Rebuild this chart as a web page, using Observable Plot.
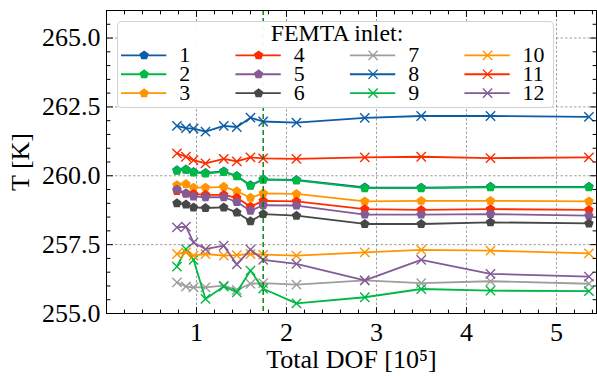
<!DOCTYPE html>
<html><head><meta charset="utf-8">
<script src="https://cdn.jsdelivr.net/npm/d3@7"></script>
<script src="https://cdn.jsdelivr.net/npm/@observablehq/plot@0.6"></script>
<style>
html,body{margin:0;padding:0;background:#fff;}
#wrap{position:relative;width:597px;height:376px;font-family:'Liberation Serif',serif;}
#wrap svg, #wrap svg text{font-family:'Liberation Serif','DejaVu Serif',serif !important;}
#legend{position:absolute;left:117px;top:21px;width:437px;height:87px;border:1px solid #d3d3d3;border-radius:4px;background:rgba(255,255,255,0.95);box-sizing:border-box;}
#legend svg{position:absolute;left:-1px;top:-1px;overflow:visible;}
</style></head><body><div id="wrap"><div id="legend"></div></div>
<script>
// x values: total degrees of freedom [10^5]
const dof = [0.783, 0.883, 0.967, 1.100, 1.303, 1.448, 1.600, 1.741, 2.111, 2.870, 3.497, 4.267, 5.361];
// temperatures [K] per FEMTA inlet
const inlet1  = [260.20, 260.23, 260.14, 260.10, 260.16, 259.99, 259.66, 259.87, 259.85, 259.58, 259.57, 259.60, 259.60];
const inlet2  = [260.18, 260.22, 260.12, 260.08, 260.14, 259.98, 259.64, 259.86, 259.83, 259.55, 259.55, 259.58, 259.58];
const inlet3  = [259.66, 259.70, 259.57, 259.57, 259.60, 259.44, 259.20, 259.36, 259.34, 259.07, 259.09, 259.09, 259.07];
const inlet4  = [259.45, 259.36, 259.34, 259.31, 259.31, 259.20, 258.88, 259.09, 259.07, 258.79, 258.76, 258.79, 258.76];
const inlet5  = [259.50, 259.36, 259.25, 259.22, 259.22, 259.05, 258.73, 258.93, 258.92, 258.59, 258.59, 258.61, 258.55];
const inlet6  = [259.00, 258.96, 258.85, 258.83, 258.85, 258.67, 258.35, 258.61, 258.55, 258.25, 258.25, 258.31, 258.27];
const inlet7  = [256.13, 255.98, 255.95, 255.95, 256.01, 255.86, 256.08, 256.10, 256.05, 256.20, 256.10, 256.17, 256.08];
const inlet8  = [261.81, 261.73, 261.71, 261.60, 261.81, 261.77, 262.11, 261.97, 261.93, 262.10, 262.17, 262.17, 262.14];
const inlet9  = [256.70, 257.34, 256.95, 255.53, 255.98, 255.77, 256.56, 255.90, 255.37, 255.59, 255.89, 255.83, 255.81];
const inlet10 = [257.16, 257.22, 257.10, 257.16, 257.10, 257.12, 257.16, 257.14, 257.10, 257.22, 257.31, 257.28, 257.18];
const inlet11 = [260.81, 260.69, 260.57, 260.45, 260.61, 260.52, 260.67, 260.63, 260.61, 260.67, 260.69, 260.64, 260.67];
const inlet12 = [258.13, 258.15, 257.58, 257.34, 257.46, 256.78, 257.32, 256.95, 256.80, 256.20, 256.95, 256.44, 256.34];
const seriesNames = ["1","2","3","4","5","6","7","8","9","10","11","12"];
const seriesColors = ["#0C5DA5","#00B945","#FF9500","#FF2C00","#845B97","#474747","#9e9e9e","#0C5DA5","#00B945","#FF9500","#FF2C00","#845B97"];
const seriesMarkers = ["pentagon","pentagon","pentagon","pentagon","pentagon","pentagon","times","times","times","times","times","times"];
const chosenDOF = [1.741];
const xTicks = [1, 2, 3, 4, 5];
const yTicks = [255.0, 257.5, 260.0, 262.5, 265.0];
const xLabel = "Total DOF [10⁵]";
const yLabel = "T [K]";
const legendTitle = "FEMTA inlet:";

const seriesValues = [inlet1,inlet2,inlet3,inlet4,inlet5,inlet6,inlet7,inlet8,inlet9,inlet10,inlet11,inlet12];
const xMinor = d3.range(1, 28).map(i => i / 5).filter(v => Math.abs(v - Math.round(v)) > 1e-6);
const yMinor = d3.range(0, 23).map(i => 255 + i / 2).filter(v => !yTicks.includes(v));

const pentagon = {draw(ctx, size) {
  const r = Math.sqrt(size / Math.PI) * 1.15;
  for (let i = 0; i < 5; i++) {
    const a = -Math.PI / 2 + i * 2 * Math.PI / 5;
    const px = r * Math.cos(a), py = r * Math.sin(a);
    if (i) ctx.lineTo(px, py); else ctx.moveTo(px, py);
  }
  ctx.closePath();
}};
const tickShape = {draw(ctx, l) { ctx.moveTo(0, 0); ctx.lineTo(0, -l); }};

const colorScale = {domain: seriesNames, range: seriesColors};

const seriesMarks = seriesNames.flatMap((name, i) => {
  const rows = dof.map((x, j) => ({dof: x, T: seriesValues[i][j], series: name}));
  const line = Plot.line(rows, {x: "dof", y: "T", stroke: "series", strokeWidth: 1.8});
  const dot = seriesMarkers[i] === "pentagon"
    ? Plot.dot(rows, {x: "dof", y: "T", fill: "series", symbol: pentagon, r: 4.3})
    : Plot.dot(rows, {x: "dof", y: "T", stroke: "series", symbol: "times", r: 4.3, strokeWidth: 1.4});
  return [line, dot];
});

const tk = {stroke: "#000", strokeWidth: 1, shape: tickShape, anchor: "start"};
const chart = Plot.plot({
  width: 597, height: 376,
  marginLeft: 106, marginRight: 1, marginTop: 10, marginBottom: 63,
  style: "font-family: 'Liberation Serif', serif; font-size: 26px; color: #000; background: #fff;",
  x: {domain: [0, 5.445]},
  y: {domain: [255, 266]},
  color: colorScale,
  marks: [
    Plot.gridX(xTicks, {stroke: "#888", strokeOpacity: 1, strokeDasharray: "2.5,2", strokeWidth: 0.8}),
    Plot.gridY(yTicks, {stroke: "#888", strokeOpacity: 1, strokeDasharray: "2.5,2", strokeWidth: 0.8}),
    ...seriesMarks,
    Plot.ruleX(chosenDOF, {stroke: "#007a00", strokeDasharray: "5,3", strokeWidth: 1.4}),
    Plot.frame({stroke: "#000", strokeWidth: 1}),
    Plot.vectorX(xTicks, {...tk, frameAnchor: "bottom", rotate: 0, length: 6}),
    Plot.vectorX(xMinor, {...tk, frameAnchor: "bottom", rotate: 0, length: 3.5}),
    Plot.vectorX(xTicks, {...tk, frameAnchor: "top", rotate: 180, length: 6}),
    Plot.vectorX(xMinor, {...tk, frameAnchor: "top", rotate: 180, length: 3.5}),
    Plot.vectorY(yTicks, {...tk, frameAnchor: "left", rotate: 90, length: 6}),
    Plot.vectorY(yMinor, {...tk, frameAnchor: "left", rotate: 90, length: 3.5}),
    Plot.vectorY(yTicks, {...tk, frameAnchor: "right", rotate: -90, length: 6}),
    Plot.vectorY(yMinor, {...tk, frameAnchor: "right", rotate: -90, length: 3.5}),
    Plot.axisX(xTicks, {tickSize: 0, tickPadding: 9, tickFormat: d3.format("d"), label: null}),
    Plot.text([xLabel], {frameAnchor: "bottom", lineAnchor: "bottom", dy: 54}),
    Plot.axisY(yTicks, {tickSize: 0, tickPadding: 6, tickFormat: d3.format(".1f"), label: yLabel, labelAnchor: "center", labelArrow: "none", labelOffset: 96})
  ]
});
document.getElementById("wrap").prepend(chart);

const entries = seriesNames.map((name, i) => ({name, col: Math.floor(i / 3), row: i % 3, marker: seriesMarkers[i]}));
const legend = Plot.plot({
  width: 437, height: 87, margin: 0,
  style: "font-family: 'Liberation Serif', serif; font-size: 22px; color: #000; background: transparent; overflow: visible;",
  x: {type: "band", domain: [0, 1, 2, 3], range: [3, 465], padding: 0, axis: null},
  y: {type: "point", domain: [0, 1, 2], range: [33.3, 72.5], padding: 0, axis: null},
  color: colorScale,
  marks: [
    Plot.text([legendTitle], {frameAnchor: "top", lineAnchor: "bottom", dy: 20, dx: 2, fontSize: 24}),
    Plot.tickY(entries, {x: "col", y: "row", stroke: "name", strokeWidth: 1.8, insetRight: 115.5 - 46}),
    Plot.dot(entries.filter(d => d.marker === "pentagon"), {x: "col", y: "row", dx: 23 - 57.75, fill: "name", symbol: pentagon, r: 4.3}),
    Plot.dot(entries.filter(d => d.marker === "times"), {x: "col", y: "row", dx: 23 - 57.75, stroke: "name", symbol: "times", r: 4.3, strokeWidth: 1.4}),
    Plot.text(entries, {x: "col", y: "row", text: "name", textAnchor: "start", dx: 0.5})
  ]
});
document.getElementById("legend").append(legend);
</script></body></html>
